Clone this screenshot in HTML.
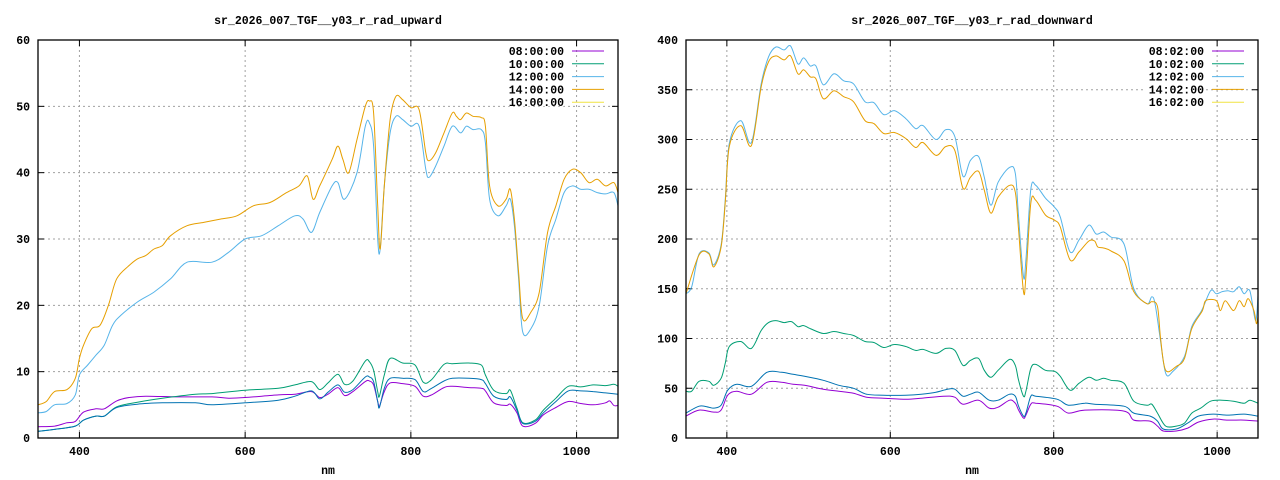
<!DOCTYPE html>
<html><head><meta charset="utf-8"><style>
html,body{margin:0;padding:0;background:#fff;}
svg{display:block;}
text{font-family:"Liberation Mono","DejaVu Sans Mono",monospace;font-weight:bold;font-size:11.5px;fill:#000;}
</style></head><body>
<svg id="s" width="1280" height="480" xmlns="http://www.w3.org/2000/svg">
<g id="g"></g>
<text x="328" y="24" text-anchor="middle">sr_2026_007_TGF__y03_r_rad_upward</text>
<text x="972" y="24" text-anchor="middle">sr_2026_007_TGF__y03_r_rad_downward</text>
<text x="328" y="474" text-anchor="middle">nm</text>
<text x="972" y="474" text-anchor="middle">nm</text>
</svg>
<script>
var NS="http://www.w3.org/2000/svg",g=document.getElementById('g');
function el(t,a){var e=document.createElementNS(NS,t);for(var k in a)e.setAttribute(k,a[k]);g.appendChild(e);return e;}
function txt(x,y,s,anc){var e=el('text',{x:x,y:y,'text-anchor':anc||'middle'});e.textContent=s;}
function smooth(p){
  var d='M'+p[0][0].toFixed(1)+','+p[0][1].toFixed(1);
  for(var i=0;i<p.length-1;i++){
    var p0=p[i>0?i-1:i],p1=p[i],p2=p[i+1],p3=p[i+2<p.length?i+2:i+1];
    var c1x=p1[0]+(p2[0]-p0[0])/6,c1y=p1[1]+(p2[1]-p0[1])/6;
    var c2x=p2[0]-(p3[0]-p1[0])/6,c2y=p2[1]-(p3[1]-p1[1])/6;
    d+=' C'+c1x.toFixed(1)+','+c1y.toFixed(1)+' '+c2x.toFixed(1)+','+c2y.toFixed(1)+' '+p2[0].toFixed(1)+','+p2[1].toFixed(1);
  }
  return d;
}
function plot(P){
  var L=P.l,R=P.r,T=40,B=438;
  function X(n){return L+(n-350)/700*(R-L);}
  function Y(v){return B-v/P.ymax*(B-T);}
  P.yt.forEach(function(v){var y=Y(v);
    if(v>0&&v<P.ymax)el('line',{x1:L,x2:R,y1:y,y2:y,stroke:'#a0a0a0','stroke-dasharray':'2,3','stroke-width':1});
    el('line',{x1:L,x2:L+6,y1:y,y2:y,stroke:'#000'});el('line',{x1:R-6,x2:R,y1:y,y2:y,stroke:'#000'});
    txt(L-8,y+4,String(v),'end');});
  [400,600,800,1000].forEach(function(n){var x=X(n);
    el('line',{x1:x,x2:x,y1:T,y2:B,stroke:'#a0a0a0','stroke-dasharray':'2,3','stroke-width':1});
    el('line',{x1:x,x2:x,y1:B,y2:B-6,stroke:'#000'});el('line',{x1:x,x2:x,y1:T,y2:T+6,stroke:'#000'});
    txt(x,B+17,String(n));});
  P.series.forEach(function(s){var d=s[1],pts=[];
    for(var i=0;i<d.length;i+=2)pts.push([X(d[i]),Y(d[i+1])]);
    el('path',{d:smooth(pts),fill:'none',stroke:s[0],'stroke-width':1});});
  el('rect',{x:L,y:T,width:R-L,height:B-T,fill:'none',stroke:'#000','stroke-width':1.3});
  var cols=['#9400d3','#009e73','#56b4e9','#e69f00','#f0e442'];
  P.leg.forEach(function(s,i){var y=51+i*12.8;
    el('rect',{x:R-112,y:y-8,width:58,height:12,fill:'#fff'});
    txt(R-54,y+4,s,'end');el('line',{x1:R-46,x2:R-14,y1:y,y2:y,stroke:cols[i]});});
}
var Lor=[350,5,360,5.5,370,7,385,7.3,395,9,400,12,405,14,415,16.5,425,17,435,20,445,24,460,26,470,27,480,27.5,490,28.5,500,29,510,30.5,530,32,550,32.5,570,33,590,33.5,610,35,630,35.5,650,37,665,38,675,39.5,682,36,690,38,705,42,712,44,718,42,725,40,735,45,745,50,750,50.8,755,49,760,35,763,28.5,768,38,775,48,782,51.5,790,51,800,49.8,810,49.5,818,43,822,41.8,830,43,840,46,850,49,855,48.5,860,48,867,49,875,48.5,885,48.3,890,47,895,38,905,35,915,36,920,37.5,925,33,930,25,935,18,945,19,955,22,965,31,975,35,985,39,995,40.5,1005,40,1015,38.5,1025,39,1035,38,1045,38.5,1050,37];
var Llb=[350,3.8,360,4,370,5,385,5.2,395,6.5,400,9.5,410,11,420,12.5,430,14,440,17,450,18.5,470,20.5,490,22,510,24,530,26.5,560,26.5,580,28,600,30,620,30.5,640,32,660,33.5,670,33,680,31,690,34,705,38,712,38.5,720,36,735,40,745,47,750,47.5,755,44,760,30,763,28.5,768,38,775,46,782,48.5,790,48,800,47,810,47,818,40.5,822,39.3,830,41,840,44,850,47,860,46,867,47,875,46.5,885,46.5,890,44.5,895,36,905,33.5,915,35,920,36,925,32,930,24,935,16,945,16.5,955,20,965,29,975,33,985,37,995,38,1005,37.5,1015,37.5,1025,37,1035,36.8,1045,37,1050,35];
var Lpu=[350,1.7,370,1.8,385,2.3,395,2.5,405,3.9,420,4.4,430,4.4,445,5.6,460,6.1,480,6.3,520,6.2,560,6.2,580,6.0,600,6.1,640,6.5,660,6.6,680,7,690,6.1,700,6.6,712,7.6,720,6.4,730,7.0,745,8.5,750,8.6,755,8.0,760,5.5,762,4.8,768,7.0,775,8.3,790,8.2,805,7.8,815,6.3,825,6.5,840,7.6,850,7.8,870,7.6,885,7.5,890,7.1,900,5.3,915,4.9,920,5.1,928,3.8,935,1.8,950,2.2,960,3.5,975,4.6,990,5.5,1005,5.2,1020,5.0,1035,5.3,1040,5.6,1045,4.9,1050,4.9];
var Lbl=[350,1.0,370,1.3,395,1.8,405,2.7,420,3.3,430,3.3,445,4.6,470,5.1,500,5.3,540,5.3,560,5.0,600,5.3,640,5.7,660,6.3,680,7.1,690,5.9,700,6.9,712,8.0,720,6.9,730,7.3,745,9.2,750,9.2,755,8.5,760,5.5,762,4.6,768,7.5,775,9.0,790,9.0,805,8.8,815,7.0,825,7.5,840,8.6,850,9.0,870,9.0,885,8.8,890,8.2,900,6.3,915,5.8,920,6.2,928,4.2,935,2.2,950,2.5,960,3.8,975,5.5,990,7.1,1005,7.1,1020,7.0,1035,6.8,1050,6.6];
var Lgr=[350,1.0,370,1.3,395,1.8,405,2.7,420,3.3,430,3.3,445,4.7,470,5.4,500,6.0,540,6.6,560,6.7,600,7.2,640,7.5,660,8.0,680,8.5,690,7.3,700,8.3,712,9.6,720,8.1,730,8.6,745,11.6,750,11.5,755,10.2,760,7,762,6.3,768,9.5,775,12,790,11.3,805,11.0,815,8.4,825,8.8,840,11.1,850,11.2,870,11.3,885,11.0,890,9.5,900,7.2,915,6.7,920,7.2,928,4.5,935,2.3,950,2.7,960,4.2,975,6.0,990,7.8,1005,7.7,1020,8.0,1035,7.9,1045,8.1,1050,7.8];
var Rlb=[350,145,357,152,366,185,378,186,384,174,393,194,398,239,403,296,417,319,430,297,442,356,451,383,460,393,470,390,478,394,487,376,494,382,502,374,509,374,518,355,531,366,543,359,555,356,569,338,580,337,592,325,605,329,619,321,631,311,640,314,656,300,668,310,679,303,689,263,698,279,708,283,715,262,723,234,732,257,746,272,753,266,757,222,763,162,766,179,772,250,778,254,790,241,801,232,808,222,820,187,831,199,843,214,852,205,861,207,870,202,886,195,898,150,914,135,920,142,924,135,930,102,937,65,946,67,960,82,969,112,981,128,992,148,999,145,1006,147,1013,148,1020,147,1027,152,1033,145,1040,148,1047,118,1050,143];
var Ror=[350,145,366,184,378,185,384,172,393,192,398,236,403,293,417,314,430,294,442,353,451,378,460,384,470,380,478,384,487,366,494,370,502,363,509,361,518,341,531,349,543,343,555,338,569,319,580,316,592,306,605,307,619,301,631,292,640,297,656,284,668,293,679,289,689,251,698,262,708,268,715,249,723,226,732,242,746,254,753,247,757,209,763,147,766,162,772,236,778,239,790,224,801,219,808,212,820,179,831,187,843,198,850,198,854,192,861,191,870,188,886,178,898,147,914,135,920,137,927,132,931,98,937,68,950,72,960,80,969,110,982,128,986,138,999,138,1004,128,1010,138,1020,128,1027,138,1033,132,1038,140,1045,128,1048,115,1050,122];
var Rgr=[350,47,357,47,366,57,378,57,384,53,393,60,398,75,403,92,417,97,430,90,442,108,451,116,460,118,470,116,479,117,487,112,494,113,502,110,518,105,531,107,543,105,555,103,569,97,580,96,592,91,605,94,619,92,631,88,640,89,656,85,668,90,679,88,689,73,698,78,708,80,715,68,723,61,732,68,746,79,753,73,757,58,763,42,766,47,772,70,778,74,790,68,801,67,808,62,820,48,831,55,843,61,852,58,861,60,870,58,886,55,898,37,914,33,920,34,927,25,937,12,950,12,960,15,969,25,980,30,992,37,1006,38,1020,37,1033,35,1040,38,1050,35];
var Rbl=[350,25,366,32,378,31,384,30,393,33,401,48,412,54,430,52,449,66,467,66,481,64,495,62,518,58,537,53,555,50,571,44,592,43,619,43,638,44,656,46,670,49,679,49,689,42,698,44,708,46,721,38,732,38,746,44,753,42,757,32,763,22,766,25,772,42,778,42,804,39,818,33,838,35,850,34,886,32,898,25,918,22,927,17,934,9,950,9,964,15,977,22,995,24,1013,23,1033,24,1050,22];
var Rpu=[350,22,366,28,384,26,393,28,401,43,412,47,430,44,449,56,467,56,481,54,495,53,518,49,537,47,555,45,571,41,592,40,619,39,638,40,665,42,679,41,689,34,708,38,721,30,732,31,746,38,753,35,757,28,763,20,766,23,772,34,778,35,804,32,818,25,838,28,886,27,898,18,918,17,927,12,934,7,950,7,964,10,977,16,995,19,1013,18,1033,18,1050,17];
plot({l:38,r:618,ymax:60,yt:[0,10,20,30,40,50,60],
  series:[['#9400d3',Lpu],['#009e73',Lgr],['#0072b2',Lbl],['#56b4e9',Llb],['#e69f00',Lor]],
  leg:['08:00:00','10:00:00','12:00:00','14:00:00','16:00:00']});
plot({l:686,r:1258,ymax:400,yt:[0,50,100,150,200,250,300,350,400],
  series:[['#9400d3',Rpu],['#009e73',Rgr],['#0072b2',Rbl],['#56b4e9',Rlb],['#e69f00',Ror]],
  leg:['08:02:00','10:02:00','12:02:00','14:02:00','16:02:00']});
</script>
</body></html>
